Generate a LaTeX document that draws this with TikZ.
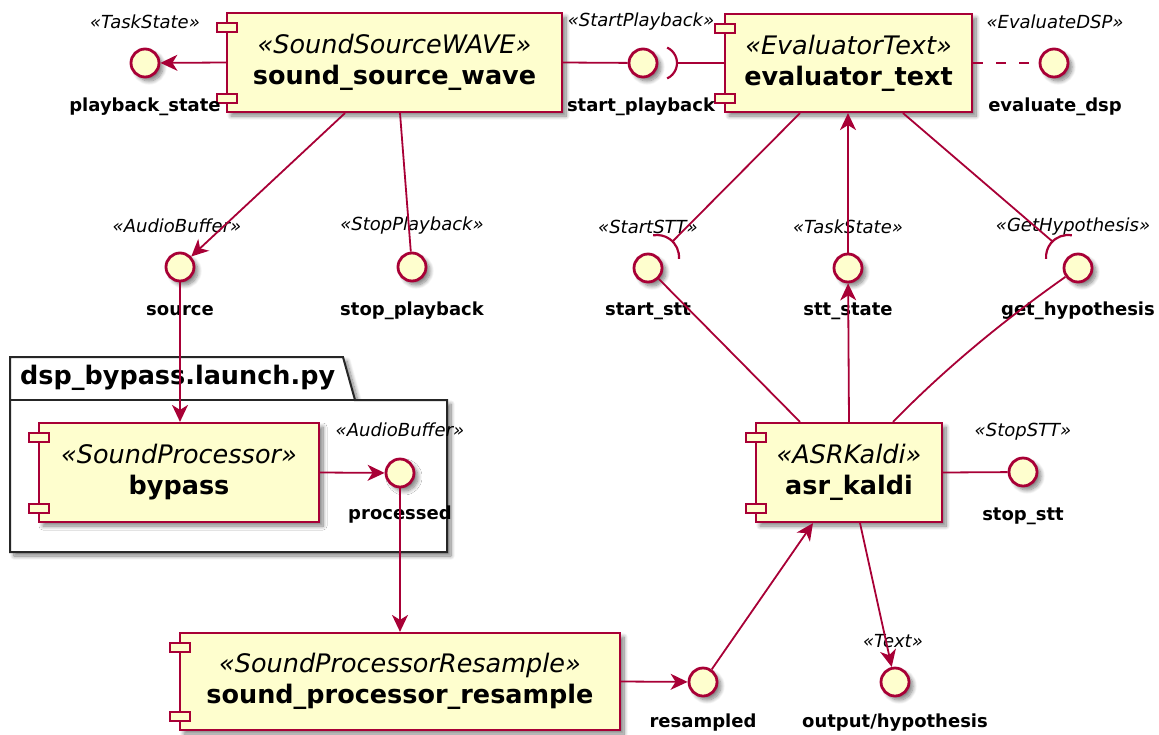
\documentclass[tikz,border=0pt]{standalone}
\usepackage{fontspec}
\setmainfont{DejaVu Sans}
\usetikzlibrary{arrows.meta,shadows.blur}
\definecolor{umlred}{HTML}{A80036}
\definecolor{umlfill}{HTML}{FEFECE}
\tikzset{
  softshadow/.style={blur shadow={shadow xshift=4pt,shadow yshift=-4pt,shadow blur radius=4pt,shadow blur steps=10,shadow opacity=50}},
  comp/.style={draw=umlred,fill=umlfill,line width=2.2pt,inner sep=0pt,align=center,
    font=\fontsize{25.5}{31}\selectfont,softshadow},
  port/.style={draw=umlred,fill=umlfill,line width=2pt},
  iface/.style={circle,draw=umlred,fill=umlfill,line width=2.8pt,minimum size=28pt,inner sep=0pt,softshadow},
  lbl/.style={font=\fontsize{18}{22}\selectfont\bfseries,inner sep=0pt},
  stereo/.style={font=\fontsize{18}{22}\selectfont\itshape,inner sep=0pt},
  conn/.style={draw=umlred,line width=1.8pt},
  arr/.style={conn,-{Stealth[length=17pt,width=16pt,inset=5pt]}},
  dashconn/.style={conn,dash pattern=on 10pt off 13pt},
  pkg/.style={draw=black!85,line width=2pt,fill=white,softshadow},
}
% component box with its stereotype, name and the two port tabs on the left edge
\newcommand\umlcomp[7]{%
  \node[comp,minimum width=#4pt,minimum height=#5pt] (#1) at (#2,#3)
    {{\itshape «#6»}\\{\bfseries #7}};
  \draw[port] ([xshift=-9pt,yshift=-11pt]#1.north west) rectangle ++(20,-9);
  \draw[port] ([xshift=-9pt,yshift=10pt]#1.south west) rectangle ++(20,9);
}
\begin{document}
\begin{tikzpicture}[x=1pt,y=1pt]
\useasboundingbox (0,0) rectangle (1159,-734);

% package dsp_bypass.launch.py
\draw[pkg] (10,-357) -- (343,-357) -- (355,-400) -- (447,-400) -- (447,-552) -- (10,-552) -- cycle;
\draw[draw=black!85,line width=2pt] (10,-400) -- (355,-400);
\node[anchor=west,inner sep=0pt,font=\fontsize{25.5}{31}\selectfont\bfseries] (pkgtitle) at (20,-378) {dsp\_bypass.launch.py};

% components
\umlcomp{ssw}{394.5}{-62.5}{335}{99}{SoundSourceWAVE}{sound\_source\_wave}
\umlcomp{evt}{848.5}{-63}{247}{98}{EvaluatorText}{evaluator\_text}
\umlcomp{byp}{179}{-472.5}{280}{99}{SoundProcessor}{bypass}
\umlcomp{spr}{400}{-681.5}{440}{97}{SoundProcessorResample}{sound\_processor\_resample}
\umlcomp{asr}{849}{-472.5}{186}{99}{ASRKaldi}{asr\_kaldi}

% provided interfaces
\node[iface] (ps) at (145,-63) {};
\node[stereo] (ps-st) at (145,-22) {«TaskState»};
\node[lbl] (ps-lb) at (145,-107) {playback\_state};

\node[iface] (spb) at (643,-63) {};
\node[stereo] (spb-st) at (641,-22) {«StartPlayback»};
\node[lbl] (spb-lb) at (641,-107) {start\_playback};

\node[iface] (edsp) at (1054,-63) {};
\node[stereo] (edsp-st) at (1055,-22) {«EvaluateDSP»};
\node[lbl] (edsp-lb) at (1055,-107) {evaluate\_dsp};

\node[iface] (src) at (180,-267) {};
\node[stereo] (src-st) at (177,-226) {«AudioBuffer»};
\node[lbl] (src-lb) at (180,-311) {source};

\node[iface] (stopp) at (412,-267) {};
\node[stereo] (stopp-st) at (412,-226) {«StopPlayback»};
\node[lbl] (stopp-lb) at (412,-311) {stop\_playback};

\node[iface] (sstt) at (648,-268) {};
\node[stereo] (sstt-st) at (648,-227) {«StartSTT»};
\node[lbl] (sstt-lb) at (648,-311) {start\_stt};

\node[iface] (sttst) at (848,-268) {};
\node[stereo] (sttst-st) at (848,-227) {«TaskState»};
\node[lbl] (sttst-lb) at (848,-311) {stt\_state};

\node[iface] (gh) at (1078,-268) {};
\node[stereo] (gh-st) at (1073,-227) {«GetHypothesis»};
\node[lbl] (gh-lb) at (1078,-311) {get\_hypothesis};

\node[iface] (proc) at (400,-473) {};
\node[stereo] (proc-st) at (400,-430) {«AudioBuffer»};
\node[lbl] (proc-lb) at (400,-515) {processed};

\node[iface] (sstop) at (1023,-472) {};
\node[stereo] (sstop-st) at (1023,-432) {«StopSTT»};
\node[lbl] (sstop-lb) at (1023,-516) {stop\_stt};

\node[iface] (res) at (703,-682) {};
\node[lbl] (res-lb) at (703,-723) {resampled};

\node[iface] (out) at (895,-682) {};
\node[stereo] (out-st) at (893,-641) {«Text»};
\node[lbl] (out-lb) at (895,-723) {output/hypothesis};

% sockets of required interfaces
\coordinate (spb-sock) at (677,-63);
\draw[conn,line width=2.2pt] (660,-63) ++(-65:17) arc[start angle=-65,end angle=65,radius=17];
\coordinate (sstt-sock) at (672.6,-241.4);
\draw[conn,line width=2.2pt] (657,-257) ++(-5:22) arc[start angle=-5,end angle=100,radius=22];
\coordinate (gh-sock) at (1052.4,-241.4);
\draw[conn,line width=2.2pt] (1068,-257) ++(80:22) arc[start angle=80,end angle=185,radius=22];

% connectors
\draw[arr] (ssw.west) -- (ps);
\draw[conn] (ssw.east) -- (spb);
\draw[conn] (spb-sock) -- (evt.west);
\draw[dashconn] (evt.east) -- (edsp);
\draw[arr] ([xshift=-49.5pt]ssw.south) -- (src);
\draw[conn] ([xshift=5.5pt]ssw.south) -- (stopp);
\draw[arr] (src) -- (src |- byp.north);
\draw[arr] (byp.east) -- (proc);
\draw[arr] (proc) -- (proc |- spr.north);
\draw[arr] (spr.east) -- (res);
\draw[arr] (res) -- ([xshift=-36pt]asr.south);
\draw[arr] ([xshift=11pt]asr.south) -- (out);
\draw[conn] ([xshift=-49pt]asr.north) -- (sstt);
\draw[arr] (asr.north) -- (sttst);
\draw[arr] (sttst) -- (sttst |- evt.south);
\draw[conn] ([xshift=44pt]asr.north) .. controls +(42,43) and (990,-330) .. (gh);
\draw[conn] ([xshift=-48.5pt]evt.south) -- (sstt-sock);
\draw[conn] ([xshift=54.5pt]evt.south) -- (gh-sock);
\draw[conn] (asr.east) -- (sstop);
\end{tikzpicture}
\end{document}
